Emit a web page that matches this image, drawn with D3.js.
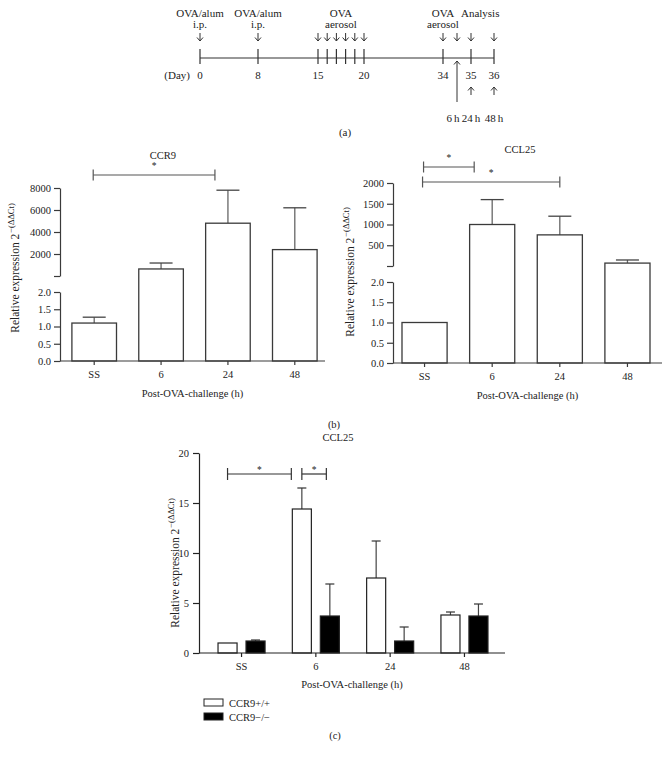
<!DOCTYPE html>
<html><head><meta charset="utf-8">
<script src="https://cdn.jsdelivr.net/npm/d3@7"></script>
<style>
body{margin:0;background:#fff}
svg{display:block}
text{font-family:"Liberation Serif","Times New Roman",serif;fill:#222}
</style></head><body>
<svg id="chart" width="669" height="758"></svg>
<script>
// ---------------- data ----------------
const timelineDays = [0, 8, 15, 20, 34, 35, 36];
const timelineMinorDays = [16, 17, 18, 19];
const injectionDays = [0, 8, 15, 16, 17, 18, 19, 20, 34, 34.5, 35, 36];
const eventDays = [0, 8, 17.5, 34, 35.4];
const eventLabels = [["OVA/alum", "i.p."], ["OVA/alum", "i.p."], ["OVA", "aerosol"], ["OVA", "aerosol"], ["Analysis"]];
const analysisDays = [34.5, 35, 36];
const analysisLabels = ["6\u2009h", "24\u2009h", "48\u2009h"];

const categories = ["SS", "6", "24", "48"];
const ccr9Mean = [1.1, 640, 4800, 2400];
const ccr9Sem = [0.17, 540, 3000, 3800];
const ccr9UpperTicks = [0, 2000, 4000, 6000, 8000];
const ccl25Mean = [1.0, 1000, 750, 70];
const ccl25Sem = [0, 600, 450, 75];
const ccl25UpperTicks = [0, 500, 1000, 1500, 2000];
const lowerTicks = [0, 0.5, 1.0, 1.5, 2.0];

const genotypes = ["CCR9+/+", "CCR9−/−"];
const wtMean = [1.0, 14.4, 7.5, 3.8];
const wtSem = [0, 2.1, 3.7, 0.3];
const koMean = [1.2, 3.7, 1.2, 3.7];
const koSem = [0.1, 3.2, 1.4, 1.2];
const cTicks = [0, 5, 10, 15, 20];

// ---------------- drawing ----------------
const svg = d3.select("#chart");
const FONT = 10.5;

function styleAxis(sel, color) {
  sel.attr("font-size", FONT).attr("font-family", null).style("color", color);
  sel.selectAll("path,line").attr("stroke-width", 1.2);
}

function yLabel(g, x, y) {
  const t = g.append("text").attr("transform", `translate(${x},${y}) rotate(-90)`)
    .attr("text-anchor", "middle").attr("font-size", 11.5);
  t.append("tspan").text("Relative expression 2");
  t.append("tspan").attr("dy", -5).attr("dx", 1).attr("font-size", 8.5).text("−(ΔΔCt)");
}

function bracket(g, x1, x2, y, h, label, starY, color) {
  g.append("line").attr("x1", x1).attr("x2", x2).attr("y1", y).attr("y2", y).attr("stroke", color).attr("stroke-width", 1.2);
  [x1, x2].forEach(x => g.append("line").attr("x1", x).attr("x2", x).attr("y1", y - h).attr("y2", y + h).attr("stroke", color).attr("stroke-width", 1.2));
  g.append("text").attr("x", (x1 + x2) / 2).attr("y", starY).attr("text-anchor", "middle").attr("font-size", 9.5).text(label);
}

// ---- panel (a): timeline ----
(function () {
  const g = svg.append("g");
  const x = d3.scaleLinear().domain(timelineDays).range([200, 258, 318, 364, 443, 471, 494]);
  const lineY = 58;
  const fs = 11;
  g.append("line").attr("x1", x(0)).attr("x2", x(36)).attr("y1", lineY).attr("y2", lineY).attr("stroke", "#333").attr("stroke-width", 1.2);
  g.selectAll("line.tk").data(timelineDays.concat(timelineMinorDays)).join("line").attr("class", "tk")
    .attr("x1", d => x(d)).attr("x2", d => x(d)).attr("y1", lineY - 9).attr("y2", lineY + 6)
    .attr("stroke", "#333").attr("stroke-width", 1.2);
  g.selectAll("text.day").data(timelineDays).join("text").attr("class", "day")
    .attr("x", d => x(d)).attr("y", 79).attr("text-anchor", "middle").attr("font-size", fs).text(d => d);
  g.append("text").attr("x", 190).attr("y", 79).attr("text-anchor", "end").attr("font-size", fs).text("(Day)");
  // down arrows
  const down = g.selectAll("g.down").data(injectionDays).join("g").attr("class", "down")
    .attr("transform", d => `translate(${x(d)},0)`);
  down.append("line").attr("y1", 33).attr("y2", 41).attr("stroke", "#333").attr("stroke-width", 1);
  down.append("path").attr("d", "M-3,37.5L0,41L3,37.5").attr("fill", "none").attr("stroke", "#333").attr("stroke-width", 1);
  // event labels
  eventDays.forEach((d, i) => {
    eventLabels[i].forEach((s, j) => {
      g.append("text").attr("x", x(d)).attr("y", 17 + j * 10.5).attr("text-anchor", "middle").attr("font-size", fs).text(s);
    });
  });
  // up arrows
  analysisDays.forEach((d, i) => {
    const top = i === 0 ? 61 : 87, bot = i === 0 ? 102 : 95;
    g.append("line").attr("x1", x(d)).attr("x2", x(d)).attr("y1", top).attr("y2", bot).attr("stroke", "#333").attr("stroke-width", 1);
    g.append("path").attr("d", `M${x(d) - 3},${top + 3.5}L${x(d)},${top}L${x(d) + 3},${top + 3.5}`).attr("fill", "none").attr("stroke", "#333").attr("stroke-width", 1);
    g.append("text").attr("x", x(d) - (i === 0 ? 4 : 0)).attr("y", 122).attr("text-anchor", "middle").attr("font-size", fs).text(analysisLabels[i]);
  });
  g.append("text").attr("x", 345).attr("y", 136).attr("text-anchor", "middle").attr("font-size", fs).text("(a)");
})();

// ---- panel (b): broken-axis bar charts ----
function drawBroken(o) {
  const g = svg.append("g");
  const color = "#3a3a3a";
  const x = d3.scaleBand().domain(categories).range(o.xRange).paddingInner(0.333).paddingOuter(o.padOuter);
  const lower = d3.scaleLinear().domain([0, 2]).range(o.lowerRange);
  const upper = d3.scaleLinear().domain([0, o.upperTicks[o.upperTicks.length - 1]]).range(o.upperRange);
  const y = v => v <= 2 ? lower(v) : upper(v);
  const bw = x.bandwidth();
  // error bars
  const eb = g.selectAll("g.eb").data(o.means.map((m, i) => ({ c: categories[i], m, s: o.sems[i] })).filter(d => d.s > 0))
    .join("g").attr("class", "eb");
  eb.append("line").attr("x1", d => x(d.c) + bw / 2).attr("x2", d => x(d.c) + bw / 2)
    .attr("y1", d => y(d.m)).attr("y2", d => y(d.m + d.s)).attr("stroke", "#666").attr("stroke-width", 1.3);
  eb.append("line").attr("x1", d => x(d.c) + bw / 2 - 11.5).attr("x2", d => x(d.c) + bw / 2 + 11.5)
    .attr("y1", d => y(d.m + d.s)).attr("y2", d => y(d.m + d.s)).attr("stroke", "#444").attr("stroke-width", 1.3);
  // bars
  g.selectAll("rect.bar").data(o.means).join("rect").attr("class", "bar")
    .attr("x", (d, i) => x(categories[i])).attr("y", d => y(d))
    .attr("width", bw).attr("height", d => lower(0) - y(d))
    .attr("fill", "#fff").attr("stroke", color).attr("stroke-width", 1.3);
  // y axes
  g.append("g").attr("transform", `translate(${o.axisX},0)`)
    .call(d3.axisLeft(lower).tickValues(lowerTicks).tickFormat(d3.format(".1f")).tickSize(6).tickSizeOuter(0).tickPadding(3))
    .call(s => styleAxis(s, color));
  g.append("g").attr("transform", `translate(${o.axisX},0)`)
    .call(d3.axisLeft(upper).tickValues(o.upperTicks).tickFormat(d => d === 0 ? "" : d).tickSize(6).tickSizeOuter(0).tickPadding(3))
    .call(s => styleAxis(s, color));
  // x axis
  g.append("line").attr("x1", o.axisX).attr("x2", o.xEnd).attr("y1", lower(0)).attr("y2", lower(0)).attr("stroke", color).attr("stroke-width", 1.2);
  g.append("g").attr("transform", `translate(0,${lower(0)})`)
    .call(d3.axisBottom(x).tickSize(4).tickPadding(6))
    .call(s => { styleAxis(s, color); s.select(".domain").remove(); });
  g.append("text").attr("x", o.titleX).attr("y", o.titleY).attr("text-anchor", "middle").attr("font-size", FONT).text(o.title);
  g.append("text").attr("x", (o.axisX + o.xEnd) / 2).attr("y", lower(0) + 36).attr("text-anchor", "middle").attr("font-size", FONT).text("Post-OVA-challenge (h)");
  yLabel(g, o.labelX, o.labelY);
  o.brackets.forEach(b => {
    bracket(g, x(b.a) + bw / 2 + b.da, x(b.b) + bw / 2 + b.db, b.y, 5.5, "*", b.y - 6, "#555");
  });
}

drawBroken({
  xRange: [60, 329], padOuter: 0.178, axisX: 60, xEnd: 325,
  lowerRange: [361, 292], upperRange: [276, 188], upperTicks: ccr9UpperTicks,
  means: ccr9Mean, sems: ccr9Sem, title: "CCR9", titleX: 163, titleY: 159,
  labelX: 19, labelY: 268,
  brackets: [{ a: "SS", b: "24", da: -1, db: -13, y: 175 }]
});
drawBroken({
  xRange: [393, 659], padOuter: 0.133, axisX: 393, xEnd: 662,
  lowerRange: [363, 282], upperRange: [266, 183], upperTicks: ccl25UpperTicks,
  means: ccl25Mean, sems: ccl25Sem, title: "CCL25", titleX: 520, titleY: 153,
  labelX: 354, labelY: 272,
  brackets: [{ a: "SS", b: "6", da: -1, db: -18, y: 167 }, { a: "SS", b: "24", da: -2, db: 0, y: 182 }]
});
svg.append("text").attr("x", 334).attr("y", 428).attr("text-anchor", "middle").attr("font-size", FONT).text("(b)");

// ---- panel (c): grouped bars ----
(function () {
  const g = svg.append("g");
  const color = "#222";
  const x0 = d3.scaleBand().domain(categories).range([199, 507]).paddingInner(0.367).paddingOuter(0.256);
  const x1 = d3.scaleBand().domain(genotypes).range([0, x0.bandwidth()]).paddingInner(0.32);
  const y = d3.scaleLinear().domain([0, 20]).range([653, 453]);
  const fills = { "CCR9+/+": "#fff", "CCR9−/−": "#000" };
  const rows = [];
  categories.forEach((c, i) => {
    rows.push({ c, gt: genotypes[0], m: wtMean[i], s: wtSem[i] });
    rows.push({ c, gt: genotypes[1], m: koMean[i], s: koSem[i] });
  });
  const bw = x1.bandwidth();
  const cx = d => x0(d.c) + x1(d.gt) + bw / 2;
  const eb = g.selectAll("g.eb").data(rows.filter(d => d.s > 0)).join("g").attr("class", "eb");
  eb.append("line").attr("x1", cx).attr("x2", cx).attr("y1", d => y(d.m)).attr("y2", d => y(d.m + d.s)).attr("stroke", "#444").attr("stroke-width", 1.2);
  eb.append("line").attr("x1", d => cx(d) - 4.5).attr("x2", d => cx(d) + 4.5).attr("y1", d => y(d.m + d.s)).attr("y2", d => y(d.m + d.s)).attr("stroke", "#333").attr("stroke-width", 1.2);
  g.selectAll("rect.bar").data(rows).join("rect").attr("class", "bar")
    .attr("x", d => x0(d.c) + x1(d.gt)).attr("y", d => y(d.m)).attr("width", bw).attr("height", d => y(0) - y(d.m))
    .attr("fill", d => fills[d.gt]).attr("stroke", color).attr("stroke-width", 1.2);
  g.append("g").attr("transform", "translate(199,0)")
    .call(d3.axisLeft(y).tickValues(cTicks).tickSize(6).tickSizeOuter(0).tickPadding(4))
    .call(s => styleAxis(s, color));
  g.append("line").attr("x1", 199).attr("x2", 505).attr("y1", y(0)).attr("y2", y(0)).attr("stroke", color).attr("stroke-width", 1.2);
  g.append("g").attr("transform", `translate(0,${y(0)})`)
    .call(d3.axisBottom(x0).tickSize(4).tickPadding(6))
    .call(s => { styleAxis(s, color); s.select(".domain").remove(); });
  g.append("text").attr("x", 338).attr("y", 441).attr("text-anchor", "middle").attr("font-size", FONT).text("CCL25");
  g.append("text").attr("x", 352).attr("y", 688).attr("text-anchor", "middle").attr("font-size", FONT).text("Post-OVA-challenge (h)");
  yLabel(g, 179, 563);
  const wtc = c => x0(c) + x1(genotypes[0]) + bw / 2;
  const koc = c => x0(c) + x1(genotypes[1]) + bw / 2;
  bracket(g, wtc("SS"), x0("6") - 1, 474, 6, "*", 473, "#333");
  bracket(g, wtc("6"), koc("6") - 3.5, 474, 6, "*", 473, "#333");
  // legend
  const lg = g.append("g").attr("transform", "translate(204,699)");
  genotypes.forEach((gt, i) => {
    lg.append("rect").attr("x", 0).attr("y", i * 14).attr("width", 19).attr("height", 7)
      .attr("fill", fills[gt]).attr("stroke", "#222").attr("stroke-width", 1);
    lg.append("text").attr("x", 25).attr("y", i * 14 + 7.5).attr("font-size", FONT).text(gt);
  });
  g.append("text").attr("x", 335).attr("y", 739).attr("text-anchor", "middle").attr("font-size", FONT).text("(c)");
})();
</script>
</body></html>
